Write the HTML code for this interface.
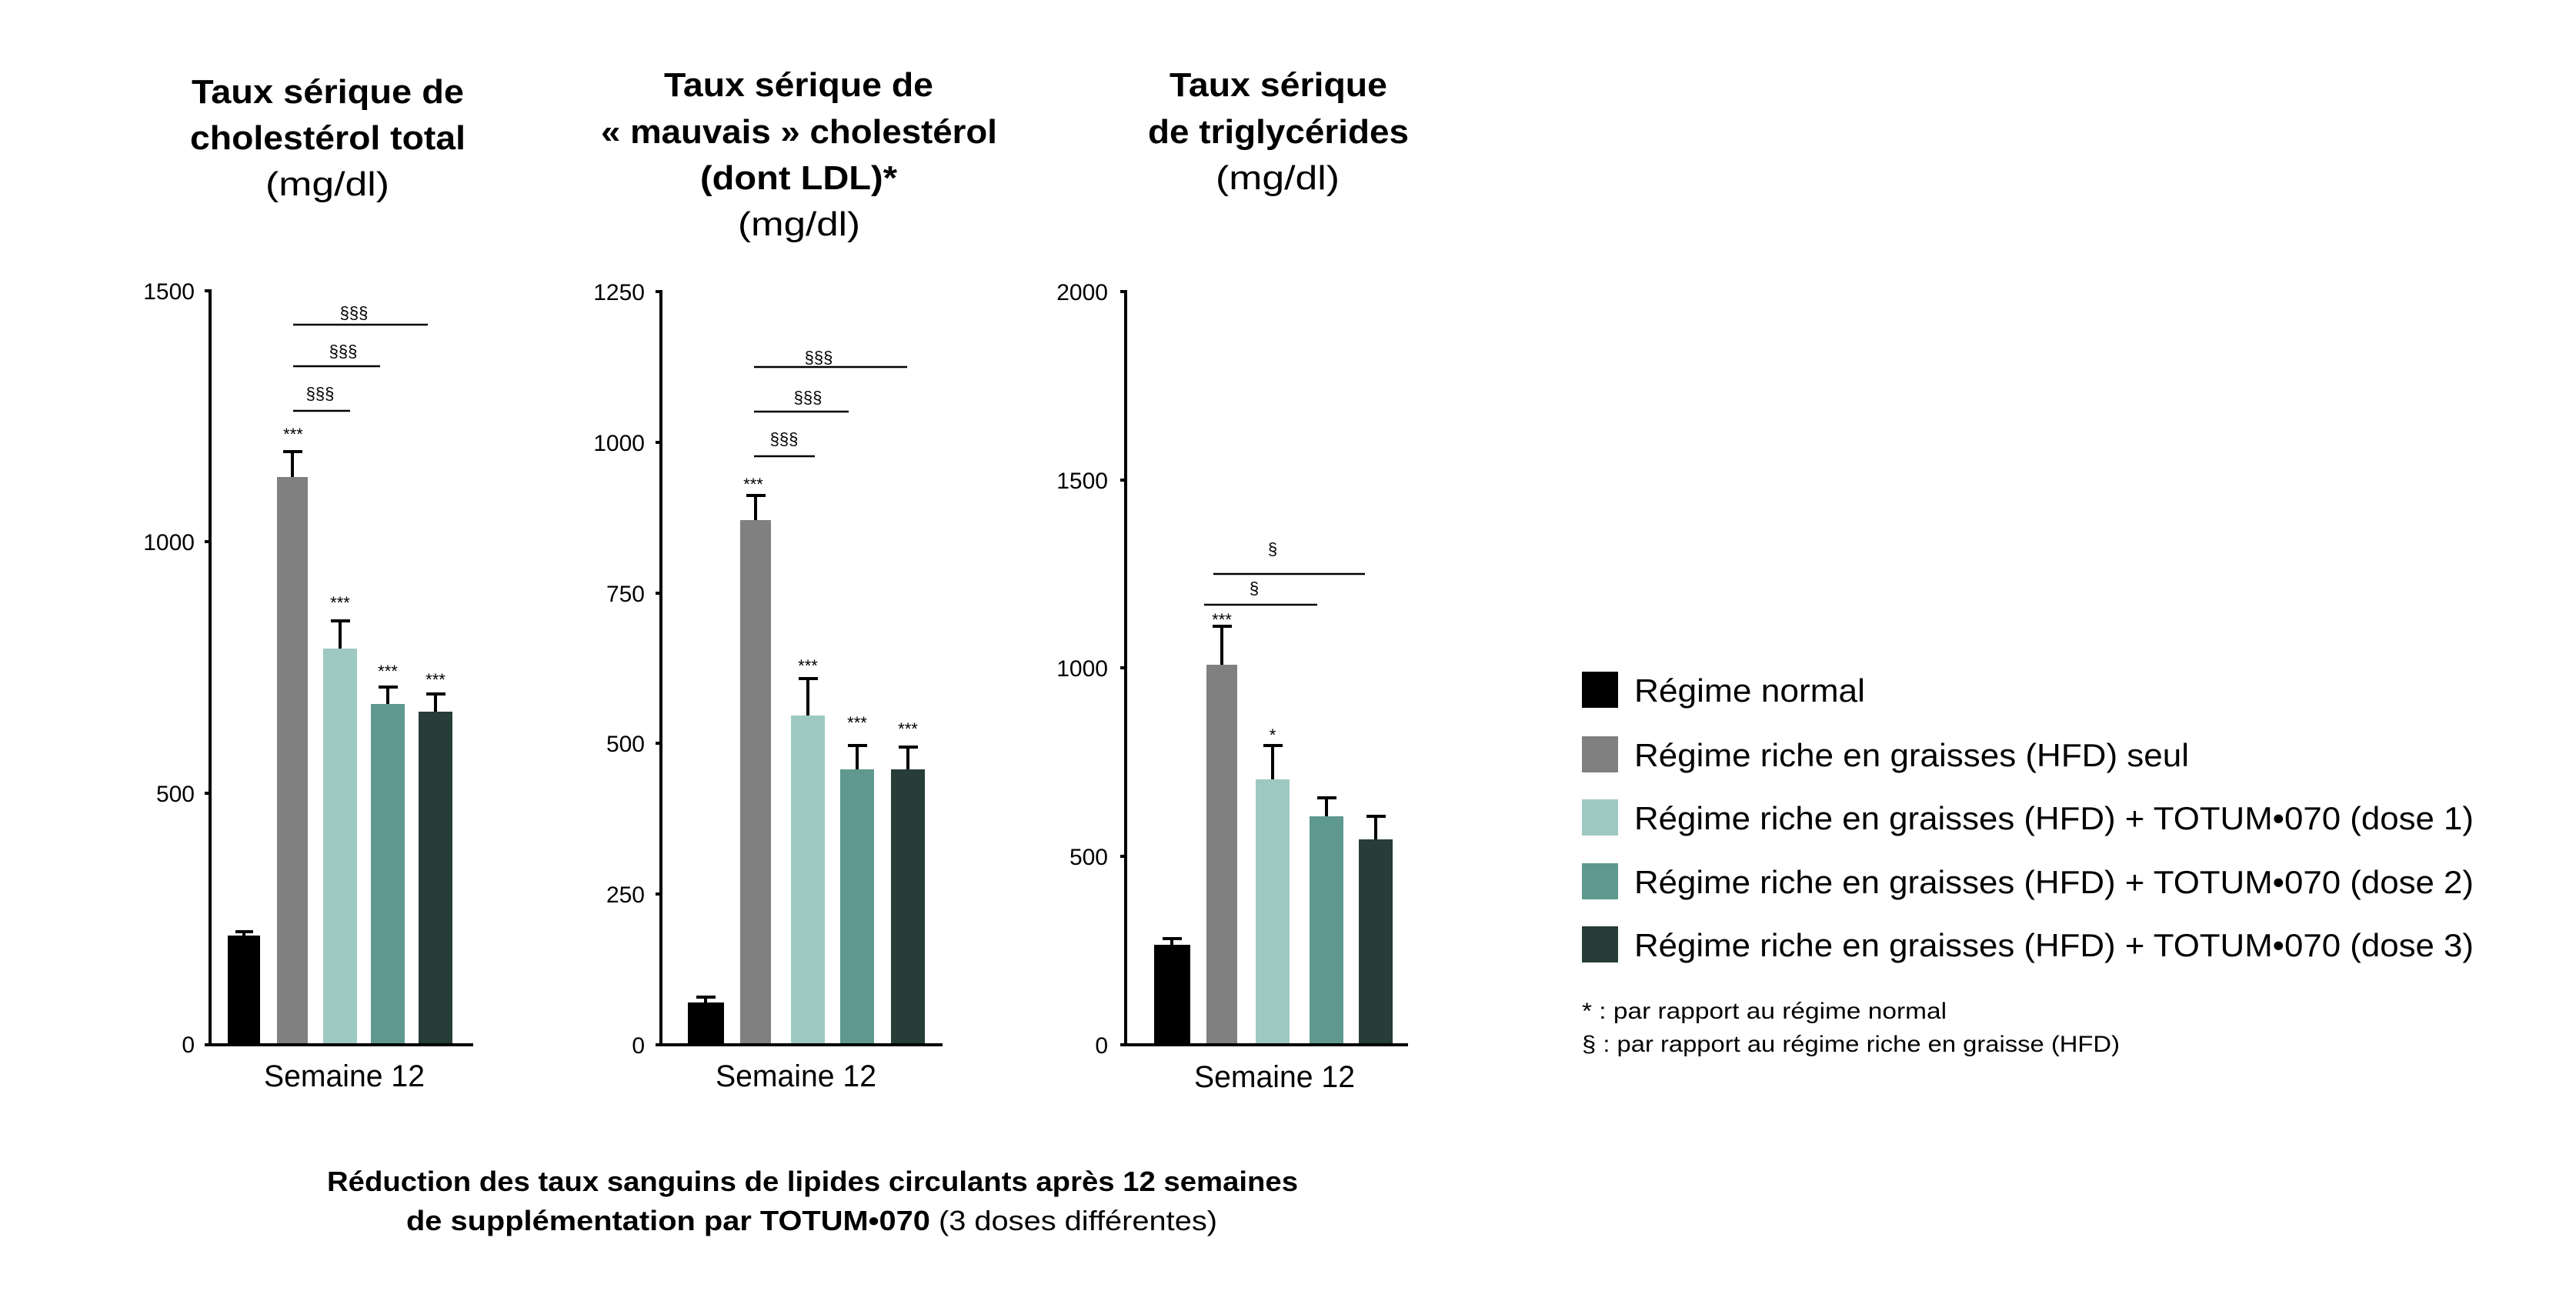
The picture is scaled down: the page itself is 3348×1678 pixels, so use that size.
<!DOCTYPE html>
<html><head><meta charset="utf-8"><style>
html,body{margin:0;padding:0;background:#fff;}
svg{display:block;}
text{font-family:"Liberation Sans",sans-serif;fill:#000;}
.t{font-weight:bold;font-size:44px;}
.u{font-size:44px;}
.tk{font-size:30px;text-anchor:end;}
.st{font-size:22px;text-anchor:middle;}
.sm{font-size:40px;}
.lg{font-size:42px;}
.fn{font-size:30px;}
</style></head><body>
<svg width="3348" height="1678" viewBox="0 0 3348 1678" xmlns="http://www.w3.org/2000/svg">
<text class="t" x="249" y="134" textLength="354" lengthAdjust="spacingAndGlyphs">Taux sérique de</text>
<text class="t" x="247" y="194" textLength="358" lengthAdjust="spacingAndGlyphs">cholestérol total</text>
<text class="u" x="345" y="254" textLength="161" lengthAdjust="spacingAndGlyphs">(mg/dl)</text>
<text class="t" x="863" y="125" textLength="350" lengthAdjust="spacingAndGlyphs">Taux sérique de</text>
<text class="t" x="781" y="186" textLength="515" lengthAdjust="spacingAndGlyphs">« mauvais » cholestérol</text>
<text class="t" x="910" y="246" textLength="256" lengthAdjust="spacingAndGlyphs">(dont LDL)*</text>
<text class="u" x="959" y="306" textLength="159" lengthAdjust="spacingAndGlyphs">(mg/dl)</text>
<text class="t" x="1520" y="125" textLength="283" lengthAdjust="spacingAndGlyphs">Taux sérique</text>
<text class="t" x="1492" y="186" textLength="339" lengthAdjust="spacingAndGlyphs">de triglycérides</text>
<text class="u" x="1580" y="246" textLength="161" lengthAdjust="spacingAndGlyphs">(mg/dl)</text>

<g stroke="#000" stroke-width="4">
<line x1="273" y1="376" x2="273" y2="1360"/>
<line x1="266" y1="1358" x2="615" y2="1358"/>
<line x1="266" y1="378" x2="273" y2="378"/>
<line x1="266" y1="704" x2="273" y2="704"/>
<line x1="266" y1="1031" x2="273" y2="1031"/>
</g>
<text class="tk" x="253" y="389">1500</text>
<text class="tk" x="253" y="715">1000</text>
<text class="tk" x="253" y="1042">500</text>
<text class="tk" x="253" y="1368">0</text>
<rect x="296" y="1216" width="42" height="140" fill="#000"/>
<rect x="360" y="620" width="40" height="736" fill="#808080"/>
<rect x="420" y="843" width="44" height="513" fill="#9ec9c2"/>
<rect x="482" y="915" width="44" height="441" fill="#5e988e"/>
<rect x="544" y="925" width="44" height="431" fill="#263d38"/>
<g stroke="#000" stroke-width="4">
<line x1="317" y1="1216" x2="317" y2="1211"/><line x1="306" y1="1211" x2="329" y2="1211"/>
<line x1="380" y1="620" x2="380" y2="587"/><line x1="368" y1="587" x2="393" y2="587"/>
<line x1="442" y1="843" x2="442" y2="807"/><line x1="430" y1="807" x2="455" y2="807"/>
<line x1="504" y1="915" x2="504" y2="893"/><line x1="492" y1="893" x2="517" y2="893"/>
<line x1="566" y1="925" x2="566" y2="902"/><line x1="554" y1="902" x2="579" y2="902"/>
</g>
<g stroke="#000" stroke-width="2.5">
<line x1="381" y1="422" x2="556" y2="422"/>
<line x1="381" y1="476" x2="494" y2="476"/>
<line x1="381" y1="534" x2="455" y2="534"/>
</g>
<text class="st" x="381" y="572">***</text>
<text class="st" x="442" y="791">***</text>
<text class="st" x="504" y="880">***</text>
<text class="st" x="566" y="891">***</text>
<text class="st" x="460" y="414">§§§</text>
<text class="st" x="446" y="464">§§§</text>
<text class="st" x="416" y="519">§§§</text>
<text class="sm" x="343" y="1412" textLength="209" lengthAdjust="spacingAndGlyphs">Semaine 12</text>

<g stroke="#000" stroke-width="4">
<line x1="859" y1="377" x2="859" y2="1360"/>
<line x1="852" y1="1358" x2="1225" y2="1358"/>
<line x1="852" y1="379" x2="859" y2="379"/>
<line x1="852" y1="575" x2="859" y2="575"/>
<line x1="852" y1="771" x2="859" y2="771"/>
<line x1="852" y1="966" x2="859" y2="966"/>
<line x1="852" y1="1162" x2="859" y2="1162"/>
</g>
<text class="tk" x="838" y="390">1250</text>
<text class="tk" x="838" y="586">1000</text>
<text class="tk" x="838" y="782">750</text>
<text class="tk" x="838" y="977">500</text>
<text class="tk" x="838" y="1173">250</text>
<text class="tk" x="838" y="1369">0</text>
<rect x="894" y="1303" width="47" height="53" fill="#000"/>
<rect x="962" y="676" width="40" height="680" fill="#808080"/>
<rect x="1028" y="930" width="44" height="426" fill="#9ec9c2"/>
<rect x="1092" y="1000" width="44" height="356" fill="#5e988e"/>
<rect x="1158" y="1000" width="44" height="356" fill="#263d38"/>
<g stroke="#000" stroke-width="4">
<line x1="917" y1="1303" x2="917" y2="1296"/><line x1="905" y1="1296" x2="930" y2="1296"/>
<line x1="982" y1="676" x2="982" y2="644"/><line x1="970" y1="644" x2="995" y2="644"/>
<line x1="1050" y1="930" x2="1050" y2="882"/><line x1="1038" y1="882" x2="1063" y2="882"/>
<line x1="1114" y1="1000" x2="1114" y2="969"/><line x1="1102" y1="969" x2="1127" y2="969"/>
<line x1="1180" y1="1000" x2="1180" y2="971"/><line x1="1168" y1="971" x2="1193" y2="971"/>
</g>
<g stroke="#000" stroke-width="2.5">
<line x1="980" y1="477" x2="1179" y2="477"/>
<line x1="980" y1="535" x2="1103" y2="535"/>
<line x1="980" y1="593" x2="1059" y2="593"/>
</g>
<text class="st" x="979" y="637">***</text>
<text class="st" x="1050" y="873">***</text>
<text class="st" x="1114" y="947">***</text>
<text class="st" x="1180" y="955">***</text>
<text class="st" x="1064" y="472">§§§</text>
<text class="st" x="1050" y="524">§§§</text>
<text class="st" x="1019" y="578">§§§</text>
<text class="sm" x="930" y="1412" textLength="209" lengthAdjust="spacingAndGlyphs">Semaine 12</text>

<g stroke="#000" stroke-width="4">
<line x1="1463" y1="377" x2="1463" y2="1360"/>
<line x1="1456" y1="1358" x2="1830" y2="1358"/>
<line x1="1456" y1="379" x2="1463" y2="379"/>
<line x1="1456" y1="624" x2="1463" y2="624"/>
<line x1="1456" y1="868" x2="1463" y2="868"/>
<line x1="1456" y1="1113" x2="1463" y2="1113"/>
</g>
<text class="tk" x="1440" y="390">2000</text>
<text class="tk" x="1440" y="635">1500</text>
<text class="tk" x="1440" y="879">1000</text>
<text class="tk" x="1440" y="1124">500</text>
<text class="tk" x="1440" y="1369">0</text>
<rect x="1500" y="1228" width="47" height="128" fill="#000"/>
<rect x="1568" y="864" width="40" height="492" fill="#808080"/>
<rect x="1632" y="1013" width="44" height="343" fill="#9ec9c2"/>
<rect x="1702" y="1061" width="44" height="295" fill="#5e988e"/>
<rect x="1766" y="1091" width="44" height="265" fill="#263d38"/>
<g stroke="#000" stroke-width="4">
<line x1="1523" y1="1228" x2="1523" y2="1220"/><line x1="1511" y1="1220" x2="1536" y2="1220"/>
<line x1="1588" y1="864" x2="1588" y2="814"/><line x1="1576" y1="814" x2="1601" y2="814"/>
<line x1="1654" y1="1013" x2="1654" y2="969"/><line x1="1642" y1="969" x2="1667" y2="969"/>
<line x1="1724" y1="1061" x2="1724" y2="1037"/><line x1="1712" y1="1037" x2="1737" y2="1037"/>
<line x1="1788" y1="1091" x2="1788" y2="1061"/><line x1="1776" y1="1061" x2="1801" y2="1061"/>
</g>
<g stroke="#000" stroke-width="2.5">
<line x1="1577" y1="746" x2="1774" y2="746"/>
<line x1="1565" y1="786" x2="1712" y2="786"/>
</g>
<text class="st" x="1588" y="813">***</text>
<text class="st" x="1654" y="963">*</text>
<text class="st" x="1654" y="721">§</text>
<text class="st" x="1630" y="772">§</text>
<text class="sm" x="1552" y="1413" textLength="209" lengthAdjust="spacingAndGlyphs">Semaine 12</text>

<rect x="2056" y="873" width="47" height="47" fill="#000"/>
<rect x="2056" y="957" width="47" height="47" fill="#808080"/>
<rect x="2056" y="1039" width="47" height="47" fill="#9ec9c2"/>
<rect x="2056" y="1122" width="47" height="47" fill="#5e988e"/>
<rect x="2056" y="1204" width="47" height="47" fill="#263d38"/>
<text class="lg" x="2124" y="912" textLength="300" lengthAdjust="spacingAndGlyphs">Régime normal</text>
<text class="lg" x="2124" y="996" textLength="721" lengthAdjust="spacingAndGlyphs">Régime riche en graisses (HFD) seul</text>
<text class="lg" x="2124" y="1078" textLength="1091" lengthAdjust="spacingAndGlyphs">Régime riche en graisses (HFD) + TOTUM•070 (dose 1)</text>
<text class="lg" x="2124" y="1161" textLength="1091" lengthAdjust="spacingAndGlyphs">Régime riche en graisses (HFD) + TOTUM•070 (dose 2)</text>
<text class="lg" x="2124" y="1243" textLength="1091" lengthAdjust="spacingAndGlyphs">Régime riche en graisses (HFD) + TOTUM•070 (dose 3)</text>
<text class="fn" x="2056" y="1324" textLength="474" lengthAdjust="spacingAndGlyphs">* : par rapport au régime normal</text>
<text class="fn" x="2056" y="1367" textLength="699" lengthAdjust="spacingAndGlyphs">§ : par rapport au régime riche en graisse (HFD)</text>

<text x="425" y="1548" style="font-size:36px;font-weight:bold" textLength="1262" lengthAdjust="spacingAndGlyphs">Réduction des taux sanguins de lipides circulants après 12 semaines</text>
<text x="528" y="1599" style="font-size:36px" textLength="1054" lengthAdjust="spacingAndGlyphs"><tspan style="font-weight:bold">de supplémentation par TOTUM•070</tspan> (3 doses différentes)</text>
</svg>
</body></html>
